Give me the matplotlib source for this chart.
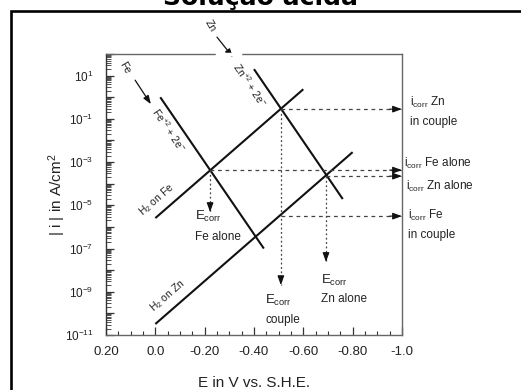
import numpy as np
import matplotlib
matplotlib.use('Agg')
import matplotlib.pyplot as plt
from matplotlib import ticker
from matplotlib.patches import Rectangle

plt.rcParams['font.family'] = ['Liberation Sans', 'DejaVu Sans']
plt.rcParams['mathtext.fontset'] = 'custom'
plt.rcParams['mathtext.rm'] = 'Liberation Sans'
plt.rcParams['mathtext.it'] = 'Liberation Sans:italic'
plt.rcParams['mathtext.bf'] = 'Liberation Sans:bold'

# Retas de Tafel (extremos): E em V vs. S.H.E., log10 |i| em A/cm2
fe_anod_E = [-0.02, -0.44]
fe_anod_logi = [0.0, -7.0]
h2_fe_E = [0.0, -0.60]
h2_fe_logi = [-5.59, 0.37]
zn_anod_E = [-0.40, -0.76]
zn_anod_logi = [1.30, -4.71]
h2_zn_E = [0.0, -0.80]
h2_zn_logi = [-10.49, -2.54]

# Potenciais de corrosao (Fe sozinho, par, Zn sozinho)
ecorr_E = [-0.222, -0.509, -0.692]
ecorr_logi = [-3.37, -0.55, -3.65]
ecorr_arrow_logi = [-5.31, -8.69, -7.62]
icorr_fe_couple_logi = -5.5

ytick_exp = list(range(-11, 3))
xtick_vals = [0.2, 0.0, -0.2, -0.4, -0.6, -0.8, -1.0]
xtick_labels = ['0.20', '0.0', '-0.20', '-0.40', '-0.60', '-0.80', '-1.0']

TXT = '#222222'
DASH = '#444444'


def arrow_head(ax, x0, y0, x1, y1):
    """Cabeca de seta solida no fim de uma linha tracejada"""
    ax.annotate('', xy=(x1, y1), xytext=(x0, y0), annotation_clip=False,
                arrowprops=dict(arrowstyle='-|>,head_length=0.55,head_width=0.2',
                                color='#111111', lw=0.8, shrinkA=0, shrinkB=0))


fig = plt.figure(figsize=(5.21, 3.9), dpi=100)
ax = fig.add_axes([0.2035, 0.141, 0.568, 0.7205])

# moldura da figura (cortada na imagem original)
fig.patches.append(Rectangle((11 / 521, -0.1), 1.2, 1.1 - 11 / 390, transform=fig.transFigure,
                             fill=False, edgecolor='black', lw=1.9, clip_on=False))
fig.text(0.5, 1 - 5 / 390, 'Solução ácida', ha='center', va='baseline',
         fontsize=18, fontweight='bold', family='DejaVu Sans')

ax.set_yscale('log')
ax.set_xlim(0.2, -1.0)
ax.set_ylim(1e-11, 1e2)

# retas
for E, li in [(fe_anod_E, fe_anod_logi), (h2_fe_E, h2_fe_logi),
              (zn_anod_E, zn_anod_logi), (h2_zn_E, h2_zn_logi)]:
    ax.plot(E, 10.0 ** np.array(li), color='#111111', lw=1.5, solid_capstyle='butt')

# linhas tracejadas horizontais -> i_corr
for E, li in zip(ecorr_E, ecorr_logi):
    ax.plot([E, -1.0], [10 ** li, 10 ** li], color=DASH, lw=0.9, ls=(0, (3, 3)))
    arrow_head(ax, -0.95, 10 ** li, -1.0, 10 ** li)
ax.plot([ecorr_E[1], -1.0], [10 ** icorr_fe_couple_logi] * 2, color=DASH, lw=0.9, ls=(0, (3, 3)))
arrow_head(ax, -0.95, 10 ** icorr_fe_couple_logi, -1.0, 10 ** icorr_fe_couple_logi)

# linhas pontilhadas verticais -> E_corr
for E, li, la in zip(ecorr_E, ecorr_logi, ecorr_arrow_logi):
    ax.plot([E, E], [10 ** li, 10 ** la], color=DASH, lw=0.9, ls=(0, (1.5, 2)))
    arrow_head(ax, E, 10 ** (la + 0.35), E, 10 ** la)

# rotulos das retas
ax.text(0.123, 10 ** 1.34, 'Fe', rotation=-60, ha='center', va='center', fontsize=7.5, color=TXT)
ax.annotate('', xy=(0.018, 10 ** -0.32), xytext=(0.082, 10 ** 0.79),
            arrowprops=dict(arrowstyle='-|>,head_length=0.5,head_width=0.18', color='#111111',
                            lw=0.9, shrinkA=0, shrinkB=0))
ax.text(-0.055, 10 ** -1.52, 'Fe$^{+2}$ + 2e$^{-}$', rotation=-56, ha='center', va='center',
        fontsize=7.5, color=TXT)
ax.text(-0.222, 10 ** 3.33, 'Zn', rotation=-60, ha='center', va='center', fontsize=7.5,
        color=TXT, clip_on=False)
ax.annotate('', xy=(-0.315, 10 ** 1.85), xytext=(-0.25, 10 ** 2.78), annotation_clip=False,
            arrowprops=dict(arrowstyle='-|>,head_length=0.5,head_width=0.18', color='#111111',
                            lw=0.9, shrinkA=0, shrinkB=0))
ax.text(-0.384, 10 ** 0.56, 'Zn$^{+2}$ + 2e$^{-}$', rotation=-56, ha='center', va='center',
        fontsize=7.5, color=TXT)
ax.text(-0.007, 10 ** -4.76, 'H$_2$ on Fe', rotation=41, ha='center', va='center',
        fontsize=7.5, color=TXT)
ax.text(-0.051, 10 ** -9.2, 'H$_2$ on Zn', rotation=41, ha='center', va='center',
        fontsize=7.5, color=TXT)

# rotulos E_corr
ecorr_txt = [(-0.161, -5.50, -6.47, 'Fe alone'),
             (-0.445, -9.38, -10.31, 'couple'),
             (-0.672, -8.46, -9.34, 'Zn alone')]
for x, l1, l2, s in ecorr_txt:
    ax.text(x, 10 ** l1, r'E$_{\mathrm{corr}}$', ha='left', va='center', fontsize=9.5, color=TXT)
    ax.text(x, 10 ** l2, s, ha='left', va='center', fontsize=8.5, color=TXT)

# rotulos i_corr (fora do grafico)
icorr_txt = [(-1.032, -0.23, r'i$_{\mathrm{corr}}$ Zn'),
             (-1.032, -1.15, 'in couple'),
             (-1.008, -3.05, r'i$_{\mathrm{corr}}$ Fe alone'),
             (-1.016, -4.11, r'i$_{\mathrm{corr}}$ Zn alone'),
             (-1.024, -5.45, r'i$_{\mathrm{corr}}$ Fe'),
             (-1.024, -6.38, 'in couple')]
for x, li, s in icorr_txt:
    ax.text(x, 10 ** li, s, ha='left', va='center', fontsize=8.5, color=TXT, clip_on=False)

# eixos
for side in ['top', 'right', 'bottom', 'left']:
    ax.spines[side].set_color('#666666')
    ax.spines[side].set_linewidth(1.0)
ax.spines['left'].set_color('#333333')

# falha na borda superior onde passa a seta do Zn
ax.plot([-0.25, -0.345], [1e2, 1e2], color='white', lw=2.5, clip_on=False, zorder=5)

ax.set_xticks(xtick_vals)
ax.set_xticklabels(xtick_labels)
ax.xaxis.set_minor_locator(ticker.MultipleLocator(0.05))
ax.yaxis.set_major_locator(ticker.FixedLocator([10.0 ** e for e in ytick_exp]))
ax.yaxis.set_major_formatter(ticker.FixedFormatter(
    [('$10^{%d}$' % e if e % 2 else '') for e in ytick_exp]))
ax.yaxis.set_minor_locator(ticker.LogLocator(base=10, subs=np.arange(2, 10), numticks=100))
ax.yaxis.set_minor_formatter(ticker.NullFormatter())
ax.tick_params(axis='both', which='both', direction='in', top=False, right=False, color='#333333')
ax.tick_params(axis='x', which='major', length=6, width=0.9, pad=8, labelsize=9.5, labelcolor=TXT)
ax.tick_params(axis='x', which='minor', length=3, width=0.8)
ax.tick_params(axis='y', which='major', length=6, width=0.9, pad=9, labelsize=8.5, labelcolor=TXT)
ax.tick_params(axis='y', which='minor', length=3.5, width=0.6)

ax.set_xlabel('E in V vs. S.H.E.', fontsize=11, color=TXT)
ax.xaxis.set_label_coords(0.5, -0.145)
ax.set_ylabel('| i | in A/cm$^2$', fontsize=11, color=TXT)
ax.yaxis.set_label_coords(-0.128, 0.5)

fig.savefig('out.png', dpi=100)
